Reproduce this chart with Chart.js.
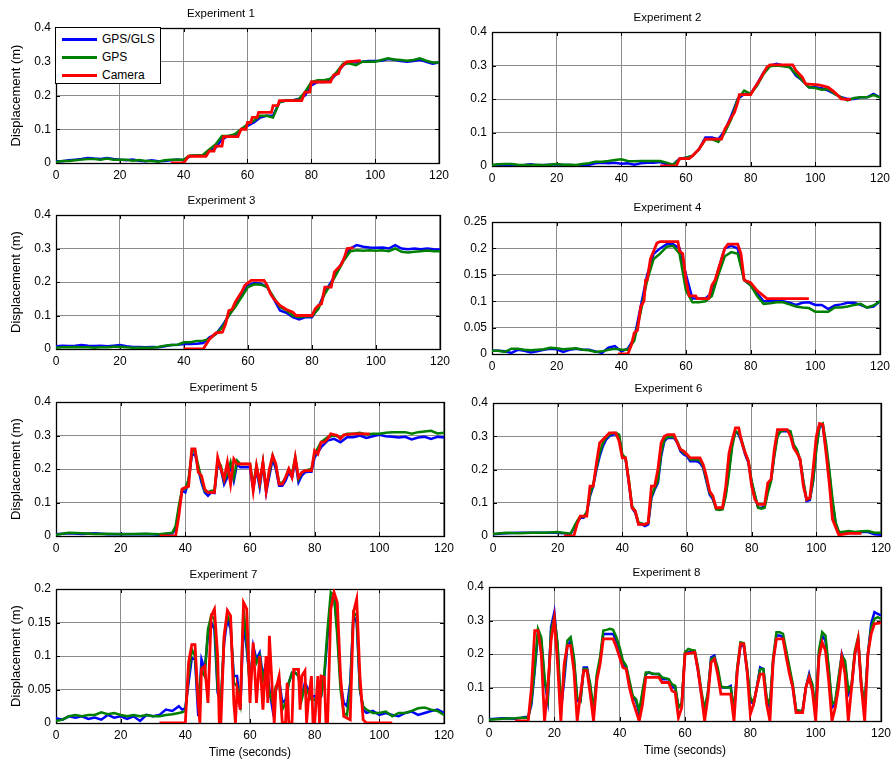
<!DOCTYPE html>
<html>
<head>
<meta charset="utf-8">
<title>GPS/GLS vs GPS vs Camera</title>
<script src="https://cdn.jsdelivr.net/npm/chart.js@4.4.1/dist/chart.umd.min.js"></script>
<style>
  html, body { margin: 0; padding: 0; background: #fff; overflow: hidden; }
  body { width: 895px; height: 763px; position: relative; font-family: 'Liberation Sans', Arial, sans-serif; }
  canvas { position: absolute; }
  #legend { position: absolute; left: 55px; top: 27px; width: 104px; height: 55px;
            border: 1px solid #000; background: #fff; z-index: 5; }
  #legend .row { position: absolute; left: 0; height: 18px; width: 104px; }
  #legend .swatch { position: absolute; left: 6px; top: 8px; width: 35px; height: 3px; }
  #legend .lbl { position: absolute; left: 46px; top: 2px; font-size: 12px; line-height: 14px; color: #000; }
</style>
</head>
<body>
<div id="legend">
  <div class="row" style="top:2px"><span class="swatch" style="background:#0000ff"></span><span class="lbl">GPS/GLS</span></div>
  <div class="row" style="top:20px"><span class="swatch" style="background:#008000"></span><span class="lbl">GPS</span></div>
  <div class="row" style="top:38px"><span class="swatch" style="background:#ff0000"></span><span class="lbl">Camera</span></div>
</div>
<script>
// sample times (s) for experiments 1-4
var tEven = [0,2,4,6,8,10,12,14,16,18,20,22,24,26,28,30,32,34,36,38,40,42,44,46,48,50,52,54,56,58,
             60,62,64,66,68,70,72,74,76,78,80,82,84,86,88,90,92,94,96,98,100,102,104,106,108,110,112,114,116,118,120];

// Experiment 1
var gls1 = [0.005,0.005,0.008,0.010,0.012,0.015,0.013,0.012,0.015,0.012,
            0.010,0.008,0.010,0.007,0.005,0.008,0.005,0.006,0.008,0.010,
            0.008,0.020,0.022,0.022,0.035,0.045,0.070,0.080,0.080,0.100,
            0.110,0.120,0.135,0.140,0.140,0.180,0.185,0.185,0.190,0.200,
            0.230,0.240,0.240,0.245,0.265,0.290,0.300,0.298,0.300,0.302,
            0.302,0.303,0.308,0.306,0.302,0.300,0.302,0.306,0.300,0.294,0.298];
var gps1 = [0.003,0.006,0.006,0.008,0.010,0.012,0.012,0.010,0.013,0.010,
            0.010,0.010,0.007,0.009,0.006,0.006,0.004,0.008,0.010,0.010,
            0.010,0.022,0.022,0.024,0.040,0.055,0.080,0.080,0.085,0.100,
            0.115,0.125,0.140,0.140,0.135,0.180,0.185,0.185,0.188,0.210,
            0.240,0.245,0.245,0.250,0.270,0.295,0.295,0.290,0.300,0.300,
            0.300,0.305,0.310,0.307,0.305,0.303,0.305,0.310,0.303,0.298,0.298];
var camT1 = [36,40,41.5,47,48,49.5,50,52,52.5,57,58,59.5,60,61,61.5,63,63.5,67.5,68,69.5,70,77,78,79.5,80,86,87,88.5,89,91,95.5];
var cam1 = [0,0,0.02,0.02,0.035,0.035,0.05,0.05,0.078,0.078,0.1,0.1,0.12,0.12,0.135,0.135,0.15,0.15,0.17,0.17,0.185,0.185,0.21,0.21,0.24,0.24,0.26,0.265,0.28,0.3,0.303];

// Experiment 2
var gls2 = [0.002,0.004,0.002,0.003,0.002,0.003,0.005,0.002,0.003,0.004,
            0.005,0.003,0.003,0.002,0.003,0.004,0.008,0.010,0.008,0.010,
            0.007,0.008,0.004,0.008,0.010,0.010,0.012,0.005,0.004,0.022,
            0.025,0.030,0.050,0.085,0.085,0.080,0.105,0.150,0.200,0.215,
            0.215,0.245,0.280,0.300,0.305,0.300,0.298,0.270,0.255,0.235,
            0.235,0.232,0.225,0.215,0.205,0.200,0.200,0.205,0.205,0.215,0.205];
var gps2 = [0.003,0.005,0.006,0.006,0.004,0.003,0.003,0.004,0.002,0.004,
            0.006,0.004,0.004,0.003,0.006,0.008,0.013,0.013,0.015,0.018,
            0.020,0.015,0.014,0.015,0.015,0.015,0.015,0.010,0.004,0.020,
            0.025,0.030,0.050,0.080,0.080,0.072,0.100,0.140,0.200,0.225,
            0.215,0.240,0.275,0.298,0.300,0.298,0.295,0.275,0.255,0.235,
            0.233,0.228,0.230,0.215,0.205,0.196,0.203,0.205,0.205,0.212,0.205];
var camT2 = [52,57,58,61,62,64,65,66,71,72,73,74,75,76,76.5,80,81,83,85,86,93,94,96,97,101,102,104,106,108,111];
var cam2 = [0,0,0.022,0.022,0.03,0.05,0.065,0.08,0.08,0.11,0.125,0.145,0.16,0.19,0.213,0.213,0.23,0.26,0.295,0.302,0.302,0.285,0.265,0.245,0.242,0.24,0.235,0.22,0.2,0.198];

// Experiment 3
var gls3 = [0.008,0.010,0.009,0.010,0.012,0.010,0.009,0.010,0.008,0.010,
            0.012,0.008,0.006,0.006,0.005,0.006,0.005,0.008,0.012,0.013,
            0.015,0.015,0.016,0.018,0.035,0.045,0.070,0.100,0.130,0.160,
            0.190,0.197,0.195,0.185,0.150,0.115,0.108,0.095,0.088,0.095,
            0.095,0.125,0.170,0.200,0.235,0.270,0.300,0.310,0.305,0.303,
            0.302,0.303,0.300,0.310,0.300,0.298,0.300,0.298,0.300,0.298,0.297];
var gps3 = [0.004,0.005,0.005,0.006,0.005,0.005,0.004,0.005,0.005,0.007,
            0.007,0.005,0.004,0.004,0.004,0.004,0.006,0.010,0.012,0.013,
            0.020,0.020,0.024,0.025,0.030,0.045,0.065,0.100,0.125,0.155,
            0.185,0.193,0.192,0.185,0.155,0.125,0.115,0.100,0.095,0.098,
            0.098,0.120,0.165,0.195,0.230,0.265,0.292,0.295,0.293,0.295,
            0.293,0.295,0.292,0.300,0.290,0.288,0.290,0.292,0.294,0.292,0.292];
var camT3 = [40,46,48,50,52,53,54,55,56,58,59,61,65,66,67,68,70,72,74,75,80,81,82,83,84,86,87,89,90,91,93];
var cam3 = [0,0,0.03,0.048,0.05,0.075,0.115,0.118,0.14,0.17,0.19,0.205,0.205,0.19,0.165,0.15,0.13,0.118,0.11,0.1,0.1,0.12,0.13,0.135,0.185,0.185,0.23,0.25,0.27,0.3,0.302];

// Experiment 4
var gls4 = [0.006,0.006,0.005,0.002,0.008,0.006,0.003,0.005,0.008,0.010,
            0.009,0.004,0.008,0.010,0.008,0.008,0.005,0.002,0.012,0.015,
            0.005,0.010,0.030,0.090,0.150,0.190,0.200,0.208,0.208,0.200,
            0.150,0.105,0.105,0.105,0.115,0.160,0.200,0.205,0.200,0.140,
            0.130,0.115,0.100,0.100,0.100,0.100,0.097,0.093,0.097,0.098,
            0.093,0.093,0.085,0.092,0.094,0.097,0.097,0.093,0.088,0.090,0.100];
var gps4 = [0.006,0.006,0.004,0.010,0.010,0.008,0.007,0.008,0.009,0.012,
            0.011,0.009,0.010,0.011,0.008,0.007,0.004,0.005,0.008,0.010,
            0.008,0.008,0.025,0.080,0.140,0.180,0.190,0.203,0.205,0.190,
            0.120,0.098,0.098,0.100,0.110,0.150,0.185,0.193,0.190,0.140,
            0.130,0.110,0.095,0.096,0.098,0.098,0.094,0.090,0.088,0.087,
            0.080,0.080,0.080,0.088,0.088,0.090,0.093,0.095,0.088,0.092,0.100];
var camT4 = [39,42,43,44,45,46,47,47.5,48,49,50,51,52,57.5,58,59,60,61,63,63.5,67,68,69,70,71,72,73,76,77,78,80,82,84,85,98];
var cam4 = [0,0,0.015,0.04,0.045,0.09,0.1,0.14,0.14,0.18,0.195,0.21,0.213,0.213,0.195,0.19,0.14,0.11,0.11,0.105,0.105,0.13,0.14,0.16,0.18,0.2,0.208,0.208,0.19,0.14,0.135,0.12,0.11,0.105,0.105];

// Experiment 5
var t5 = [0,4,8,12,16,20,24,28,32,36,
          37,38,39,40,41,42,43,44,45,46,47,48,49,50,51,52,53,54,55,56,
          57,58,59,60,61,62,63,64,65,66,67,68,69,70,71,72,73,74,75,76,77,78,79,80,
          82,84,86,88,90,92,94,96,98,100,102,104,106,108,110,112,114,116,118,120];
var gls5 = [0.005,0.008,0.006,0.008,0.005,0.006,0.005,0.006,0.004,0.008,
            0.02,0.08,0.135,0.13,0.165,0.24,0.245,0.2,0.16,0.13,
            0.12,0.13,0.128,0.215,0.2,0.155,0.175,0.21,0.165,0.215,
            0.205,0.205,0.205,0.205,0.14,0.2,0.145,0.215,0.13,0.18,
            0.23,0.2,0.15,0.15,0.165,0.19,0.175,0.225,0.16,0.18,
            0.19,0.192,0.192,0.235,
            0.265,0.285,0.29,0.28,0.295,0.295,0.3,0.293,0.298,0.302,
            0.298,0.296,0.294,0.296,0.288,0.294,0.296,0.29,0.296,0.294];
var gps5 = [0.004,0.01,0.008,0.006,0.007,0.005,0.006,0.007,0.005,0.01,
            0.03,0.09,0.14,0.14,0.17,0.25,0.255,0.21,0.17,0.135,
            0.13,0.135,0.135,0.225,0.21,0.165,0.185,0.22,0.175,0.225,
            0.215,0.215,0.215,0.215,0.15,0.21,0.155,0.22,0.14,0.19,
            0.24,0.21,0.16,0.158,0.175,0.2,0.185,0.235,0.17,0.19,
            0.195,0.198,0.2,0.245,
            0.28,0.295,0.3,0.295,0.305,0.305,0.308,0.303,0.305,0.305,
            0.308,0.31,0.31,0.31,0.305,0.31,0.312,0.314,0.306,0.308];
var camT5 = [32,37,38,39,40,41,42,43,44,45,46,47,49,50,51,52,53,54,55,56,60,61,62,63,64,65,66,67,68,69,
             70,71,72,73,74,75,76,77,79,80,81,82,83,84,85,87,88,89,92,97];
var cam5 = [0,0,0.06,0.14,0.145,0.148,0.26,0.26,0.19,0.18,0.14,0.13,0.13,0.235,0.2,0.17,0.22,0.155,0.23,0.215,
            0.215,0.135,0.21,0.16,0.22,0.135,0.2,0.24,0.215,0.155,0.155,0.175,0.2,0.175,0.235,0.175,0.19,0.195,0.195,0.255,
            0.245,0.28,0.28,0.29,0.305,0.3,0.29,0.302,0.305,0.305];

// Experiment 6
var t6 = [0,4,8,12,16,20,24,
          26,27,28,29,30,31,32,33,34,35,36,37,38,39,40,41,42,43,44,45,46,47,48,49,50,51,52,53,54,55,
          56,57,58,59,60,61,62,63,64,65,66,67,68,69,70,71,72,73,74,75,76,77,78,79,80,81,82,83,84,85,
          86,87,88,89,90,91,92,93,94,95,96,97,98,99,100,101,102,103,104,105,106,107,
          108,110,112,114,116,118,120];
var gls6 = [0.005,0.008,0.01,0.01,0.01,0.01,0.006,
            0.04,0.055,0.055,0.07,0.12,0.15,0.2,0.24,0.27,0.29,
            0.3,0.305,0.305,0.3,0.24,0.232,0.16,0.085,0.07,0.035,
            0.035,0.03,0.035,0.115,0.14,0.16,0.24,0.285,0.295,0.295,
            0.295,0.28,0.255,0.245,0.24,0.225,0.225,0.225,0.22,0.205,
            0.165,0.125,0.11,0.085,0.08,0.085,0.13,0.2,0.28,0.315,
            0.305,0.28,0.245,0.22,0.16,0.12,0.085,0.085,0.09,0.14,
            0.17,0.245,0.305,0.315,0.315,0.315,0.31,0.27,0.255,0.225,
            0.16,0.105,0.108,0.165,0.265,0.33,0.33,0.26,0.19,0.1,
            0.035,0.01,
            0.01,0.012,0.008,0.012,0.012,0.005,0.004];
var gps6 = [0.006,0.01,0.008,0.01,0.01,0.012,0.007,
            0.045,0.06,0.058,0.072,0.125,0.155,0.205,0.25,0.28,0.295,
            0.305,0.31,0.31,0.305,0.245,0.235,0.17,0.09,0.075,0.04,
            0.038,0.035,0.04,0.12,0.145,0.165,0.25,0.29,0.298,0.298,
            0.298,0.285,0.26,0.25,0.245,0.23,0.23,0.23,0.228,0.21,
            0.17,0.13,0.115,0.08,0.078,0.08,0.12,0.19,0.27,0.315,
            0.31,0.285,0.25,0.225,0.165,0.125,0.085,0.082,0.085,0.13,
            0.165,0.24,0.3,0.315,0.318,0.318,0.315,0.275,0.26,0.23,
            0.165,0.11,0.112,0.165,0.26,0.33,0.338,0.28,0.2,0.11,
            0.04,0.012,
            0.012,0.015,0.012,0.014,0.015,0.01,0.01];
var camT6 = [22,25,26,27,29,30,31,32,33,35,36,38,39,40,41,42,43,44,45,47,48,49,50,51,52,53,54,56,57,58,
             59,60,61,64,65,66,67,68,69,71,72,73,74,75,76,77,78,79,80,81,82,84,85,86,87,88,91,92,93,94,
             95,96,97,98,99,100,101,102,103,104,105,107,108,110,114];
var cam6 = [0,0,0.035,0.06,0.06,0.15,0.15,0.22,0.28,0.3,0.31,0.31,0.285,0.235,0.235,0.165,0.085,0.075,0.035,0.035,
            0.04,0.15,0.15,0.2,0.28,0.3,0.305,0.305,0.28,0.26,0.255,0.245,0.235,0.235,0.215,0.18,0.135,0.12,0.085,0.085,
            0.15,0.25,0.29,0.325,0.325,0.28,0.25,0.225,0.15,0.11,0.095,0.095,0.16,0.17,0.26,0.32,0.32,0.3,0.265,0.25,
            0.23,0.15,0.11,0.115,0.2,0.3,0.338,0.335,0.25,0.16,0.05,0.002,0.005,0.008,0.008];

// Experiment 7
var t7 = [0,2,4,6,8,10,12,14,16,18,20,22,24,26,28,30,32,34,36,38,
          39,40,41,42,43,44,45,46,47,48,49,50,51,52,53,54,55,56,57,58,59,60,61,62,63,64,65,66,67,68,
          69,70,71,72,73,74,75,76,77,78,79,80,81,82,83,84,85,86,87,88,89,90,91,92,93,94,95,
          96,98,100,102,104,106,108,110,112,114,116,118,120];
var gls7 = [0.007,0.005,0.01,0.008,0.01,0.006,0.008,0.005,0.012,0.008,
            0.01,0.006,0.01,0.003,0.012,0.01,0.012,0.02,0.018,0.025,
            0.02,0.022,0.06,0.097,0.095,0.01,0.095,0.08,0.13,0.15,
            0.14,0.045,0.03,0.12,0.155,0.14,0.07,0.07,0.02,0.15,
            0.11,0.06,0.115,0.095,0.105,0.07,0.09,0.05,0.02,0.05,
            0.065,0.03,0.035,0.06,0.075,0.075,0.07,0.04,0.06,0.05,
            0.04,0.04,0.035,0.04,0.07,0.13,0.185,0.19,0.14,0.06,
            0.03,0.025,0.06,0.16,0.15,0.05,0.02,
            0.015,0.018,0.012,0.015,0.012,0.01,0.015,0.017,0.012,0.015,0.018,0.02,0.015];
var gps7 = [0.003,0.005,0.01,0.012,0.01,0.012,0.012,0.016,0.013,0.015,
            0.012,0.01,0.012,0.01,0.012,0.01,0.01,0.012,0.013,0.015,
            0.016,0.018,0.07,0.11,0.1,0.03,0.08,0.07,0.14,0.16,
            0.155,0.05,0.03,0.13,0.16,0.15,0.06,0.055,0.03,0.17,
            0.12,0.05,0.11,0.09,0.1,0.065,0.085,0.045,0.03,0.055,
            0.06,0.02,0.03,0.06,0.075,0.075,0.07,0.035,0.055,0.045,
            0.035,0.035,0.03,0.04,0.075,0.14,0.195,0.19,0.13,0.05,
            0.015,0.012,0.05,0.165,0.16,0.05,0.025,
            0.02,0.015,0.015,0.017,0.01,0.015,0.015,0.018,0.022,0.023,0.02,0.018,0.012];
var camT7 = [32,40,41,42,43,44,44.5,45,46,47,48,49,50,50.5,51,52,53,54,55,55.5,
             56,57,58,59,60,61,62,63,64,65,65.5,66,67,67.5,68,69,70,71,71.5,72,
             73,73.5,75,75.5,76,77,77.5,78,79,79.5,80,81,81.5,82,83,83.5,84,85,86,87,
             88,89,91,92,93,94,95,96,104];
var cam7 = [0,0,0.09,0.117,0.117,0.03,0,0.08,0.085,0.03,0.16,0.17,0.1,0,0,0.13,0.168,0.16,0.03,0,
            0.05,0.02,0.18,0.17,0.03,0.12,0.03,0.1,0.02,0.1,0.03,0.13,0.04,0,0.05,0.07,0,0,0.06,0,
            0,0.08,0.08,0.02,0.07,0.078,0,0.03,0.07,0,0,0.07,0,0.07,0.068,0,0,0.17,0.195,0.18,
            0.07,0.01,0.005,0.165,0.185,0.07,0.005,0,0];

// Experiment 8
var t8 = [0,4,8,10,
          11,12,13,14,15,16,17,18,19,20,21,22,23,24,25,26,27,28,29,30,31,32,33,34,35,36,37,38,39,40,
          41,42,43,44,45,46,47,48,49,50,51,52,53,54,55,56,57,58,59,60,61,62,63,64,65,66,67,68,69,70,
          71,72,73,74,75,76,77,78,79,80,81,82,83,84,85,86,87,88,89,90,91,92,93,94,95,96,97,98,99,100,
          101,102,103,104,105,106,107,108,109,110,111,112,113,114,115,116,117,118,119,120];
var gls8 = [0.005,0.008,0.007,0.01,
            0.012,0.012,0.05,0.15,0.26,0.24,0.12,0.06,0.28,0.325,
            0.22,0.03,0.12,0.225,0.24,0.18,0.06,0.06,0.16,0.16,
            0.1,0.02,0.13,0.18,0.26,0.26,0.26,0.26,0.24,0.21,
            0.17,0.16,0.11,0.07,0.06,0.02,0.08,0.14,0.145,0.14,
            0.14,0.14,0.125,0.125,0.125,0.1,0.1,0.04,0.05,0.2,
            0.205,0.205,0.205,0.15,0.08,0.03,0.08,0.19,0.195,0.15,
            0.1,0.1,0.1,0.105,0.02,0.15,0.225,0.225,0.15,0.06,
            0.05,0.1,0.16,0.155,0.06,0.04,0.18,0.255,0.255,0.25,
            0.2,0.15,0.1,0.03,0.03,0.03,0.1,0.14,0.1,0.02,
            0.2,0.255,0.24,0.15,0.04,0.05,0.12,0.2,0.17,0.08,
            0.1,0.2,0.24,0.1,0.04,0.2,0.29,0.325,0.32,0.315];
var gps8 = [0.004,0.007,0.008,0.01,
            0.01,0.01,0.06,0.16,0.275,0.25,0.13,0.07,0.27,0.31,
            0.23,0.04,0.14,0.24,0.25,0.19,0.07,0.06,0.155,0.155,
            0.11,0.03,0.14,0.19,0.27,0.272,0.275,0.272,0.25,0.22,
            0.18,0.165,0.12,0.075,0.065,0.03,0.09,0.145,0.145,0.142,
            0.14,0.14,0.13,0.128,0.125,0.11,0.105,0.04,0.055,0.205,
            0.215,0.212,0.21,0.16,0.09,0.035,0.085,0.185,0.19,0.16,
            0.105,0.1,0.1,0.1,0.03,0.16,0.235,0.232,0.16,0.07,
            0.055,0.1,0.155,0.155,0.07,0.05,0.19,0.265,0.265,0.26,
            0.21,0.16,0.11,0.035,0.03,0.03,0.1,0.135,0.11,0.03,
            0.21,0.265,0.255,0.16,0.05,0.06,0.13,0.195,0.18,0.09,
            0.11,0.21,0.25,0.11,0.05,0.2,0.28,0.305,0.31,0.305];
var camT8 = [8,12,13,14,15,16,17,18,19,20,21,22,23,24,25,26,27,28,29,30,31,32,33,34,35,38,39,40,41,42,
             43,44,45,46,47,48,52,53,55,56,57,58,59,60,63,64,65,66,67,68,69,70,71,74,75,76,77,78,79,80,
             81,82,83,84,85,86,87,88,90,91,92,93,94,96,97,98,99,100,101,102,103,104,105,106,107,108,109,110,111,112,
             113,114,115,116,117,118,120];
var cam8 = [0,0,0.1,0.27,0.27,0.2,0,0.1,0.24,0.305,0.17,0,0.17,0.225,0.225,0.15,0,0.08,0.15,0.15,
            0.08,0,0.12,0.17,0.245,0.245,0.22,0.19,0.16,0.155,0.1,0.06,0.03,0,0.05,0.13,0.13,0.115,0.115,0.09,
            0.085,0.01,0.04,0.2,0.205,0.15,0.08,0,0.07,0.175,0.185,0.14,0.08,0.08,0,0.15,0.23,0.23,0.15,0.02,
            0.05,0.1,0.14,0.14,0.05,0,0.18,0.245,0.245,0.19,0.14,0.1,0.025,0.025,0.1,0.13,0.09,0,0.19,0.235,
            0.21,0.12,0,0.04,0.1,0.19,0.14,0,0.1,0.2,0.245,0.1,0,0.2,0.26,0.29,0.293];

var seriesNames = ['GPS/GLS', 'GPS', 'Camera'];
var seriesColors = ['#0000ff', '#008000', '#ff0000'];

var FONT = "'Liberation Sans', Arial, sans-serif";
Chart.defaults.font.family = FONT;
Chart.defaults.color = '#000';

// plot rectangles in page pixels: left, top, right, bottom
var panels = [
  { title: 'Experiment 1', t: tEven, gls: gls1, gps: gps1, camT: camT1, cam: cam1, ymax: 0.4,  ystep: 0.1,  box: [56, 28, 442, 163],  right: false, bottom: false },
  { title: 'Experiment 2', t: tEven, gls: gls2, gps: gps2, camT: camT2, cam: cam2, ymax: 0.4,  ystep: 0.1,  box: [492, 32, 883, 166], right: true,  bottom: false },
  { title: 'Experiment 3', t: tEven, gls: gls3, gps: gps3, camT: camT3, cam: cam3, ymax: 0.4,  ystep: 0.1,  box: [56, 215, 443, 349], right: false, bottom: false },
  { title: 'Experiment 4', t: tEven, gls: gls4, gps: gps4, camT: camT4, cam: cam4, ymax: 0.25, ystep: 0.05, box: [492, 222, 883, 354], right: true, bottom: false },
  { title: 'Experiment 5', t: t5, gls: gls5, gps: gps5, camT: camT5, cam: cam5, ymax: 0.4,  ystep: 0.1,  box: [56, 402, 447, 536], right: false, bottom: false },
  { title: 'Experiment 6', t: t6, gls: gls6, gps: gps6, camT: camT6, cam: cam6, ymax: 0.4,  ystep: 0.1,  box: [493, 403, 884, 536], right: true,  bottom: false },
  { title: 'Experiment 7', t: t7, gls: gls7, gps: gps7, camT: camT7, cam: cam7, ymax: 0.2,  ystep: 0.05, box: [56, 589, 447, 723], right: false, bottom: true },
  { title: 'Experiment 8', t: t8, gls: gls8, gps: gps8, camT: camT8, cam: cam8, ymax: 0.4,  ystep: 0.1,  box: [489, 587, 884, 721], right: true,  bottom: true }
];

function pts(xs, ys) {
  return xs.map(function (x, k) { return { x: x, y: ys[k] }; });
}

// MATLAB style box with inward tick marks
var framePlugin = {
  id: 'frame',
  beforeDatasetsDraw: function (chart) {
    var a = chart.chartArea, ctx = chart.ctx;
    var xs = chart.scales.x, ys = chart.scales.y;
    ctx.save();
    ctx.strokeStyle = '#000';
    ctx.lineWidth = 1;
    ctx.beginPath();
    xs.ticks.forEach(function (tk) {
      var px = Math.round(xs.getPixelForValue(tk.value)) + 0.5;
      ctx.moveTo(px, a.bottom); ctx.lineTo(px, a.bottom - 4);
      ctx.moveTo(px, a.top); ctx.lineTo(px, a.top + 4);
    });
    ys.ticks.forEach(function (tk) {
      var py = Math.round(ys.getPixelForValue(tk.value)) + 0.5;
      ctx.moveTo(a.left, py); ctx.lineTo(a.left + 4, py);
      ctx.moveTo(a.right, py); ctx.lineTo(a.right - 4, py);
    });
    ctx.stroke();
    ctx.lineWidth = 1.3;
    ctx.strokeRect(Math.round(a.left) + 0.5, Math.round(a.top) + 0.5, Math.round(a.width), Math.round(a.height));
    ctx.restore();
  }
};

function tickText(v) {
  return String(parseFloat(Number(v).toFixed(3)));
}

panels.forEach(function (p) {
  var yw = p.right ? 40 : 56;
  var xh = p.bottom ? 38 : 22;
  var rp = 12, th = 24;
  var L = p.box[0], T = p.box[1], R = p.box[2], B = p.box[3];

  var cv = document.createElement('canvas');
  cv.width = (R - L) + yw + rp;
  cv.height = (B - T) + th + xh;
  cv.style.left = (L - yw) + 'px';
  cv.style.top = (T - th) + 'px';
  document.body.appendChild(cv);

  var gridOpts = { color: '#8c8c8c', lineWidth: 1, drawTicks: false };

  new Chart(cv, {
    type: 'line',
    data: {
      datasets: [
        { label: seriesNames[0], data: pts(p.t, p.gls), borderColor: seriesColors[0], borderWidth: 2.5, order: 3 },
        { label: seriesNames[1], data: pts(p.t, p.gps), borderColor: seriesColors[1], borderWidth: 2.5, order: 2 },
        { label: seriesNames[2], data: pts(p.camT, p.cam), borderColor: seriesColors[2], borderWidth: 2.8, order: 1 }
      ]
    },
    options: {
      responsive: false,
      animation: false,
      events: [],
      parsing: false,
      elements: { point: { radius: 0 }, line: { tension: 0, fill: false } },
      layout: { padding: { left: 0, right: rp, top: 0, bottom: 0 } },
      plugins: {
        legend: { display: false },
        tooltip: { enabled: false },
        title: {
          display: true, text: p.title, color: '#000',
          font: { size: 11.5, weight: 'normal', family: FONT },
          padding: { top: 3.2, bottom: 7 }
        }
      },
      scales: {
        x: {
          type: 'linear', min: 0, max: 120,
          border: { display: false },
          grid: gridOpts,
          ticks: { stepSize: 20, color: '#000', font: { size: 12, family: FONT }, padding: 5, maxRotation: 0, autoSkip: false },
          title: { display: p.bottom, text: 'Time (seconds)', color: '#000', font: { size: 12, family: FONT }, padding: { top: 0, bottom: 1 } },
          afterFit: function (s) { s.height = xh; }
        },
        y: {
          type: 'linear', min: 0, max: p.ymax,
          border: { display: false },
          grid: gridOpts,
          ticks: { stepSize: p.ystep, color: '#000', font: { size: 12, family: FONT }, padding: 5, callback: tickText },
          title: { display: !p.right, text: 'Displacement (m)', color: '#000', font: { size: 13, family: FONT }, padding: { top: 9, bottom: 0 } },
          afterFit: function (s) { s.width = yw; }
        }
      }
    },
    plugins: [framePlugin]
  });
});
</script>
</body>
</html>
